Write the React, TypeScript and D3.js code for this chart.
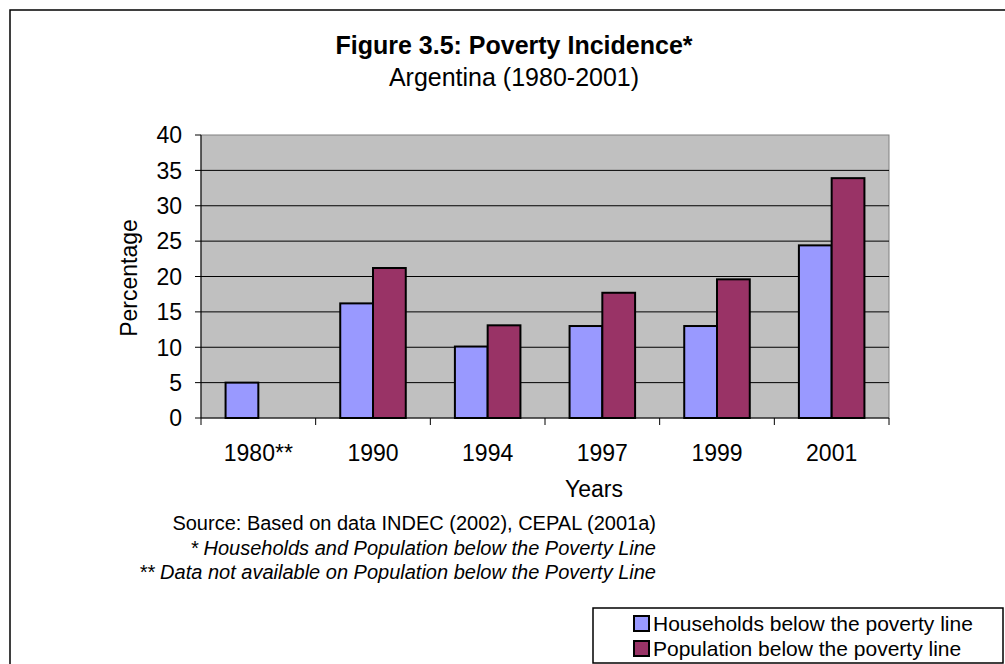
import React from "react";
import * as d3 from "d3";

const years = ["1980**", "1990", "1994", "1997", "1999", "2001"];
const households = [5.0, 16.2, 10.1, 13.0, 13.0, 24.4];
const population: (number | null)[] = [null, 21.2, 13.1, 17.7, 19.6, 33.9];
const yTicks = [0, 5, 10, 15, 20, 25, 30, 35, 40];
const seriesNames = ["Households below the poverty line", "Population below the poverty line"];
const seriesColors = ["#9999FF", "#993366"];
const notes = [
  "Source: Based on data INDEC (2002), CEPAL (2001a)",
  "* Households and Population below the Poverty Line",
  "** Data not available on Population below the Poverty Line",
];

const W = 1005;
const H = 664;
const plot = { left: 201, right: 889, top: 135, bottom: 418 };
const font = "'Liberation Sans', Arial, sans-serif";

export default function App() {
  const x = d3.scaleBand<string>().domain(years).range([plot.left, plot.right]).paddingInner(0).paddingOuter(0);
  const y = d3.scaleLinear().domain([0, 40]).range([plot.bottom, plot.top]);
  const bw = x.bandwidth() / 3.5;
  const series = [households, population];

  return (
    <svg width={W} height={H} style={{ position: "absolute", left: 0, top: 0, fontFamily: font }}>
      <rect x={0} y={0} width={W} height={H} fill="#fff" />
      <rect x={10} y={10} width={W + 20} height={H + 20} fill="none" stroke="#000" strokeWidth={1.5} />

      <text x={514} y={54} textAnchor="middle" fontSize={25} fontWeight="bold">
        Figure 3.5: Poverty Incidence*
      </text>
      <text x={514} y={86} textAnchor="middle" fontSize={25}>
        Argentina (1980-2001)
      </text>

      <rect x={plot.left} y={plot.top} width={plot.right - plot.left} height={plot.bottom - plot.top} fill="#C0C0C0" stroke="#808080" strokeWidth={1} />

      {yTicks.map((t) => (
        <g key={t}>
          {t > 0 && t < 40 && (
            <line x1={plot.left} x2={plot.right} y1={y(t)} y2={y(t)} stroke="#000" strokeWidth={1} />
          )}
          <line x1={plot.left - 6} x2={plot.left} y1={y(t)} y2={y(t)} stroke="#000" strokeWidth={1} />
          <text x={182} y={y(t)} dy="0.36em" textAnchor="end" fontSize={23}>
            {t}
          </text>
        </g>
      ))}

      {series.map((vals, si) =>
        vals.map((v, i) =>
          v == null ? null : (
            <rect
              key={`${si}-${i}`}
              x={(x(years[i]) as number) + 0.75 * bw + si * bw}
              y={y(v)}
              width={bw}
              height={y(0) - y(v)}
              fill={seriesColors[si]}
              stroke="#000"
              strokeWidth={2}
            />
          )
        )
      )}

      <line x1={plot.left} x2={plot.left} y1={plot.top} y2={plot.bottom} stroke="#000" strokeWidth={1} />
      <line x1={plot.left} x2={plot.right} y1={plot.bottom} y2={plot.bottom} stroke="#000" strokeWidth={1} />
      {[...years.map((c) => x(c) as number), plot.right].map((px, i) => (
        <line key={i} x1={px} x2={px} y1={plot.bottom} y2={plot.bottom + 7} stroke="#000" strokeWidth={1} />
      ))}
      {years.map((c) => (
        <text key={c} x={(x(c) as number) + x.bandwidth() / 2} y={461} textAnchor="middle" fontSize={23}>
          {c}
        </text>
      ))}

      <text x={594} y={497} textAnchor="middle" fontSize={23}>
        Years
      </text>
      <text transform="translate(137,278) rotate(-90)" textAnchor="middle" fontSize={23}>
        Percentage
      </text>

      {notes.map((n, i) => (
        <text key={i} x={656} y={530 + i * 24.5} textAnchor="end" fontSize={20} fontStyle={i > 0 ? "italic" : "normal"}>
          {n}
        </text>
      ))}

      <rect x={593} y={608} width={410} height={55} fill="#fff" stroke="#000" strokeWidth={1.5} />
      {seriesNames.map((s, i) => (
        <g key={s}>
          <rect x={634} y={616 + i * 25} width={15} height={15} fill={seriesColors[i]} stroke="#000" strokeWidth={2} />
          <text x={653} y={631 + i * 25} fontSize={21}>
            {s}
          </text>
        </g>
      ))}
    </svg>
  );
}
